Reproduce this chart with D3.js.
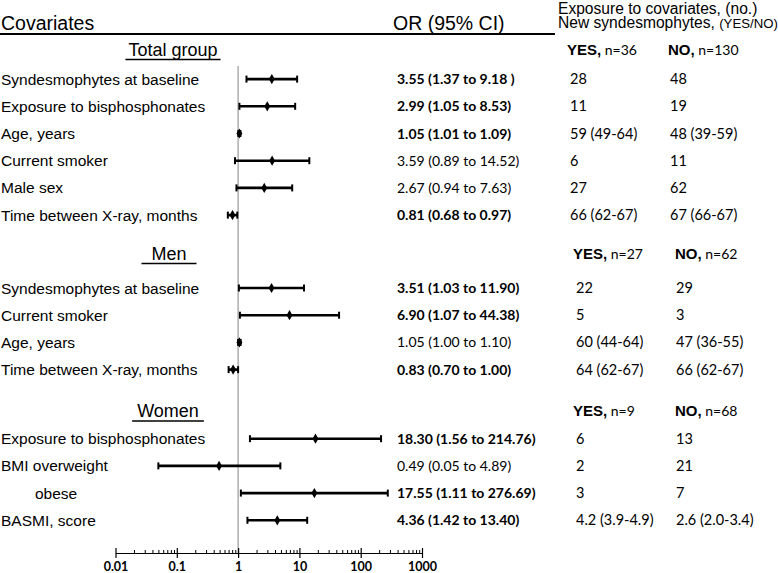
<!DOCTYPE html>
<html>
<head>
<meta charset="utf-8">
<script src="https://cdn.jsdelivr.net/npm/d3@7"></script>
<style>
  body { margin: 0; background: #fff; }
  svg { display: block; }
  .lbl { font-family: "Liberation Sans", Arial, sans-serif; }
  .num { font-family: Lato, "Open Sans", sans-serif; }
</style>
</head>
<body>
<svg id="chart" width="778" height="573"></svg>
<script>
// groups and their header counts
var groupNames = ['Total group', 'Men', 'Women']
var groupYesN = ['n=36', 'n=27', 'n=9']
var groupNoN = ['n=130', 'n=62', 'n=68']

// one entry per covariate row
var rowGroup = [0, 0, 0, 0, 0, 0, 1, 1, 1, 1, 2, 2, 2, 2]
var covariates = [
  'Syndesmophytes at baseline', 'Exposure to bisphosphonates', 'Age, years', 'Current smoker',
  'Male sex', 'Time between X-ray, months',
  'Syndesmophytes at baseline', 'Current smoker', 'Age, years', 'Time between X-ray, months',
  'Exposure to bisphosphonates', 'BMI overweight', 'obese', 'BASMI, score'
]
var orValues = [3.55, 2.99, 1.05, 3.59, 2.67, 0.81, 3.51, 6.90, 1.05, 0.83, 18.30, 0.49, 17.55, 4.36]
var ciLow = [1.37, 1.05, 1.01, 0.89, 0.94, 0.68, 1.03, 1.07, 1.00, 0.70, 1.56, 0.05, 1.11, 1.42]
var ciHigh = [9.18, 8.53, 1.09, 14.52, 7.63, 0.97, 11.90, 44.38, 1.10, 1.00, 214.76, 4.89, 276.69, 13.40]
var orLabels = [
  '3.55 (1.37 to 9.18 )', '2.99 (1.05 to 8.53)', '1.05 (1.01 to 1.09)', '3.59 (0.89 to 14.52)',
  '2.67 (0.94 to 7.63)', '0.81 (0.68 to 0.97)',
  '3.51 (1.03 to 11.90)', '6.90 (1.07 to 44.38)', '1.05 (1.00 to 1.10)', '0.83 (0.70 to 1.00)',
  '18.30 (1.56 to 214.76)', '0.49 (0.05 to 4.89)', '17.55 (1.11 to 276.69)', '4.36 (1.42 to 13.40)'
]
// rows printed in bold in the source table
var orSignificant = [true, true, true, false, false, true, true, true, false, true, true, false, true, true]
var yesCounts = ['28', '11', '59 (49-64)', '6', '27', '66 (62-67)', '22', '5', '60 (44-64)', '64 (62-67)', '6', '2', '3', '4.2 (3.9-4.9)']
var noCounts = ['48', '19', '48 (39-59)', '11', '62', '67 (66-67)', '29', '3', '47 (36-55)', '66 (62-67)', '13', '21', '7', '2.6 (2.0-3.4)']

var tickValues = [0.01, 0.1, 1, 10, 100, 1000]
var tickLabels = ['0.01', '0.1', '1', '10', '100', '1000']

class ForestPlot {
  constructor (node) {
    this.svg = d3.select(node)
    this.x = d3.scaleLog().domain([0.01, 1000]).range([115.5, 422])
    this.unit = 27.2
    this.axisY = 553
    // spacing (in row units) before / after each group header
    this.gapBefore = [0, 1.43, 1.54]
    this.gapAfter = [1.07, 1.25, 1.0]
  }

  // walk the rows and give every header and row a vertical slot
  layout () {
    var slots = []
    var pos = 0
    var prev = -1
    rowGroup.forEach((g, i) => {
      if (g !== prev) {
        pos += this.gapBefore[g]
        slots.push({ type: 'header', group: g, pos: pos })
        pos += this.gapAfter[g]
        prev = g
      } else {
        pos += 1
      }
      slots.push({ type: 'row', index: i, pos: pos })
    })
    var y = d3.scaleLinear().domain([0, 1]).range([50, 50 + this.unit])
    slots.forEach(s => { s.y = y(s.pos) })
    return slots
  }

  render () {
    var slots = this.layout()
    this.drawHeader()
    this.drawRefLine(slots)
    this.drawGroupHeaders(slots.filter(s => s.type === 'header'))
    this.drawRows(slots.filter(s => s.type === 'row'))
    this.drawAxis()
  }

  drawHeader () {
    var svg = this.svg
    svg.append('text').attr('class', 'lbl').attr('x', 1).attr('y', 30)
      .style('font-size', '19.5px').text('Covariates')
    svg.append('text').attr('class', 'lbl').attr('x', 393).attr('y', 30)
      .style('font-size', '19.5px').text('OR (95% CI)')
    svg.append('text').attr('class', 'lbl').attr('x', 558).attr('y', 14)
      .style('font-size', '15.6px').text('Exposure to covariates, (no.)')
    var t = svg.append('text').attr('class', 'lbl').attr('x', 558).attr('y', 28)
      .style('font-size', '15.6px')
    t.append('tspan').text('New syndesmophytes, ')
    t.append('tspan').style('font-size', '13.2px').text('(YES/NO)')
    svg.append('line').attr('x1', 0).attr('x2', 555).attr('y1', 34).attr('y2', 34)
      .attr('stroke', '#000').attr('stroke-width', 2)
  }

  drawRefLine (slots) {
    var top = slots[1].y - 13
    this.svg.append('line')
      .attr('x1', this.x(1)).attr('x2', this.x(1))
      .attr('y1', top).attr('y2', this.axisY)
      .attr('stroke', '#999').attr('stroke-width', 1.2)
  }

  drawGroupHeaders (headers) {
    var svg = this.svg
    var yesX = [567, 573, 573]
    var noX = [668, 675, 675]
    var titleX = [173, 169, 168]
    var pads = [3, 10, 5]
    headers.forEach(h => {
      var g = h.group
      var title = svg.append('text').attr('class', 'lbl')
        .attr('x', titleX[g]).attr('y', h.y + 6)
        .attr('text-anchor', 'middle')
        .style('font-size', '18px').text(groupNames[g])
      var w = title.node().getComputedTextLength()
      svg.append('line')
        .attr('x1', titleX[g] - w / 2 - pads[g]).attr('x2', titleX[g] + w / 2 + pads[g])
        .attr('y1', h.y + 9.5).attr('y2', h.y + 9.5)
        .attr('stroke', '#000').attr('stroke-width', 1.5)

      var yes = svg.append('text').attr('x', yesX[g]).attr('y', h.y + 5)
      yes.append('tspan').attr('class', 'lbl').style('font-weight', 'bold').style('font-size', '15px').text('YES,')
      yes.append('tspan').attr('class', 'num').style('font-size', '14px').text(' ' + groupYesN[g])
      var no = svg.append('text').attr('x', noX[g]).attr('y', h.y + 5)
      no.append('tspan').attr('class', 'lbl').style('font-weight', 'bold').style('font-size', '15px').text('NO,')
      no.append('tspan').attr('class', 'num').style('font-size', '14px').text(' ' + groupNoN[g])
    })
  }

  drawRows (rows) {
    var svg = this.svg
    var x = this.x
    var yesX = [570, 576, 576]
    var noX = [670, 676, 676]

    var g = svg.selectAll('g.row').data(rows).enter().append('g')
      .attr('class', 'row')
      .attr('transform', d => 'translate(0,' + d.y + ')')

    g.append('text').attr('class', 'lbl')
      .attr('x', d => covariates[d.index] === 'obese' ? 35 : 1)
      .attr('y', 5.5)
      .style('font-size', '15.5px')
      .text(d => covariates[d.index])

    g.append('line')
      .attr('x1', d => x(ciLow[d.index])).attr('x2', d => x(ciHigh[d.index]))
      .attr('stroke', '#000').attr('stroke-width', 2.6)
    g.append('line')
      .attr('x1', d => x(ciLow[d.index])).attr('x2', d => x(ciLow[d.index]))
      .attr('y1', -3.5).attr('y2', 3.5)
      .attr('stroke', '#000').attr('stroke-width', 2)
    g.append('line')
      .attr('x1', d => x(ciHigh[d.index])).attr('x2', d => x(ciHigh[d.index]))
      .attr('y1', -3.5).attr('y2', 3.5)
      .attr('stroke', '#000').attr('stroke-width', 2)
    g.append('path')
      .attr('d', d3.symbol(d3.symbolDiamond).size(30))
      .attr('transform', d => 'translate(' + x(orValues[d.index]) + ',0)')
      .attr('fill', '#000')

    g.append('text').attr('class', 'num')
      .attr('x', 397).attr('y', 5)
      .style('font-size', '14px')
      .style('font-weight', d => orSignificant[d.index] ? 'bold' : 'normal')
      .text(d => orLabels[d.index])

    g.append('text').attr('class', 'num')
      .attr('x', d => yesX[rowGroup[d.index]]).attr('y', 5)
      .style('font-size', '14.5px')
      .text(d => yesCounts[d.index])
    g.append('text').attr('class', 'num')
      .attr('x', d => noX[rowGroup[d.index]]).attr('y', 5)
      .style('font-size', '14.5px')
      .text(d => noCounts[d.index])
  }

  drawAxis () {
    var x = this.x
    var minors = []
    tickValues.slice(0, -1).forEach(v => {
      for (var k = 2; k < 10; k++) minors.push(v * k)
    })

    var axisG = this.svg.append('g').attr('transform', 'translate(0,' + this.axisY + ')')
    axisG.call(d3.axisBottom(x).tickValues(minors).tickSize(-3).tickSizeOuter(0).tickFormat(''))
    axisG.select('.domain').attr('stroke-width', 1.2)
    axisG.selectAll('.tick line').attr('stroke-width', 1)

    var major = this.svg.append('g').attr('transform', 'translate(0,' + this.axisY + ')')
    major.call(d3.axisBottom(x).tickValues(tickValues).tickSize(4).tickSizeOuter(0)
      .tickFormat((d, i) => tickLabels[i]))
    major.select('.domain').remove()
    major.selectAll('.tick line').attr('y1', -5).attr('y2', 5).attr('stroke-width', 1.2)
    major.selectAll('.tick text')
      .attr('class', 'num').attr('y', 9).attr('dy', '0.7em')
      .style('font-size', '12.5px').style('font-weight', 'bold').attr('fill', '#000')
  }
}

new ForestPlot(document.getElementById('chart')).render()
</script>
</body>
</html>
